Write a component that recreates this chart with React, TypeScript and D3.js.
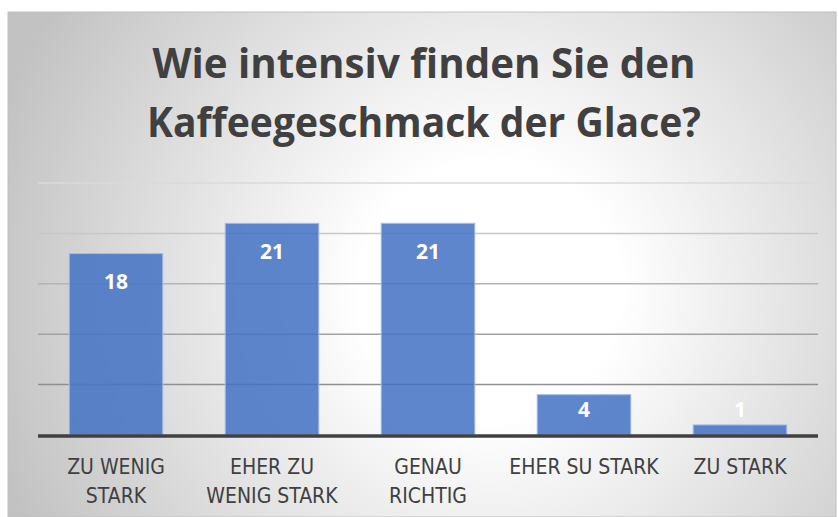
import React, { useEffect, useRef } from "react";
import * as d3 from "d3";

const title = ["Wie intensiv finden Sie den", "Kaffeegeschmack der Glace?"];
const categories = ["ZU WENIG STARK", "EHER ZU WENIG STARK", "GENAU RICHTIG", "EHER SU STARK", "ZU STARK"];
const tickLines = [["ZU WENIG", "STARK"], ["EHER ZU", "WENIG STARK"], ["GENAU", "RICHTIG"], ["EHER SU STARK"], ["ZU STARK"]];
const values = [18, 21, 21, 4, 1];
const gridTicks = [0, 5, 10, 15, 20, 25];

const W = 838;
const H = 517;

const App = () => {
  const svgRef = useRef<SVGSVGElement>(null);

  useEffect(() => {
    const svg = d3.select(svgRef.current);
    svg.selectAll("*").remove();

    const defs = svg.append("defs");
    const grad = defs.append("radialGradient")
      .attr("id", "bg")
      .attr("gradientUnits", "userSpaceOnUse")
      .attr("cx", 490).attr("cy", 290).attr("r", 520);
    grad.append("stop").attr("offset", 0).attr("stop-color", "#ffffff");
    grad.append("stop").attr("offset", 0.25).attr("stop-color", "#ffffff");
    grad.append("stop").attr("offset", 1).attr("stop-color", "#c2c2c2");

    svg.append("rect")
      .attr("x", 8).attr("y", 12)
      .attr("width", W - 10).attr("height", H - 12)
      .attr("fill", "url(#bg)")
      .attr("stroke", "#bfbfbf")
      .attr("stroke-width", 1);

    const x = d3.scaleBand()
      .domain(categories)
      .range([38, 818])
      .paddingInner(0.4)
      .paddingOuter(0.2);

    const y = d3.scaleLinear()
      .domain([0, 25])
      .range([435, 183]);

    const gridColor = d3.scaleLinear<string>()
      .domain([25, 5])
      .range(["#dadada", "#8f8f8f"]);

    // gridlines
    svg.append("g")
      .selectAll("line")
      .data(gridTicks.filter(t => t > 0))
      .join("line")
      .attr("x1", 38).attr("x2", 818)
      .attr("y1", d => y(d)).attr("y2", d => y(d))
      .attr("stroke", d => gridColor(d))
      .attr("stroke-width", 1.5);

    // bars
    svg.append("g")
      .selectAll("rect")
      .data(values)
      .join("rect")
      .attr("x", (d, i) => x(categories[i]))
      .attr("y", d => y(d))
      .attr("width", x.bandwidth())
      .attr("height", d => y(0) - y(d))
      .attr("fill", "#4472c4")
      .attr("fill-opacity", 0.86)
      .attr("stroke", "#a9bde6")
      .attr("stroke-width", 1);

    // baseline
    svg.append("line")
      .attr("x1", 38).attr("x2", 818)
      .attr("y1", y(0) + 1).attr("y2", y(0) + 1)
      .attr("stroke", "#404040")
      .attr("stroke-width", 3.5);

    // value labels
    svg.append("g")
      .selectAll("text")
      .data(values)
      .join("text")
      .attr("x", (d, i) => x(categories[i]) + x.bandwidth() / 2)
      .attr("y", d => Math.min(y(d) + 28, y(0) - 26) + 7.5)
      .attr("text-anchor", "middle")
      .attr("font-family", "'Open Sans', 'Liberation Sans', sans-serif")
      .attr("font-weight", "bold")
      .attr("font-size", 21)
      .attr("fill", "#ffffff")
      .text(d => d);

    // category labels
    const cat = svg.append("g")
      .selectAll("text")
      .data(tickLines)
      .join("text")
      .attr("text-anchor", "middle")
      .attr("font-family", "'Liberation Sans Narrow', 'DejaVu Sans Condensed', 'Roboto', sans-serif")
      .attr("font-size", 21)
      .attr("fill", "#404040");
    cat.selectAll("tspan")
      .data((d, i) => d.map(line => ({ line, i })))
      .join("tspan")
      .attr("x", d => x(categories[d.i]) + x.bandwidth() / 2)
      .attr("y", (d, j) => 474 + j * 29)
      .text(d => d.line);

    // title
    svg.append("g")
      .selectAll("text")
      .data(title)
      .join("text")
      .attr("x", 424)
      .attr("y", (d, i) => 78 + i * 59)
      .attr("text-anchor", "middle")
      .attr("font-family", "'Open Sans', 'Liberation Sans', sans-serif")
      .attr("font-weight", "bold")
      .attr("font-size", 42)
      .attr("fill", "#404040")
      .attr("textLength", (d, i) => (i === 0 ? 543 : 554))
      .attr("lengthAdjust", "spacingAndGlyphs")
      .text(d => d);
  }, []);

  return (
    <svg
      ref={svgRef}
      width={W}
      height={H}
      style={{ position: "absolute", left: 0, top: 0, display: "block" }}
    ></svg>
  );
};

export default App;
